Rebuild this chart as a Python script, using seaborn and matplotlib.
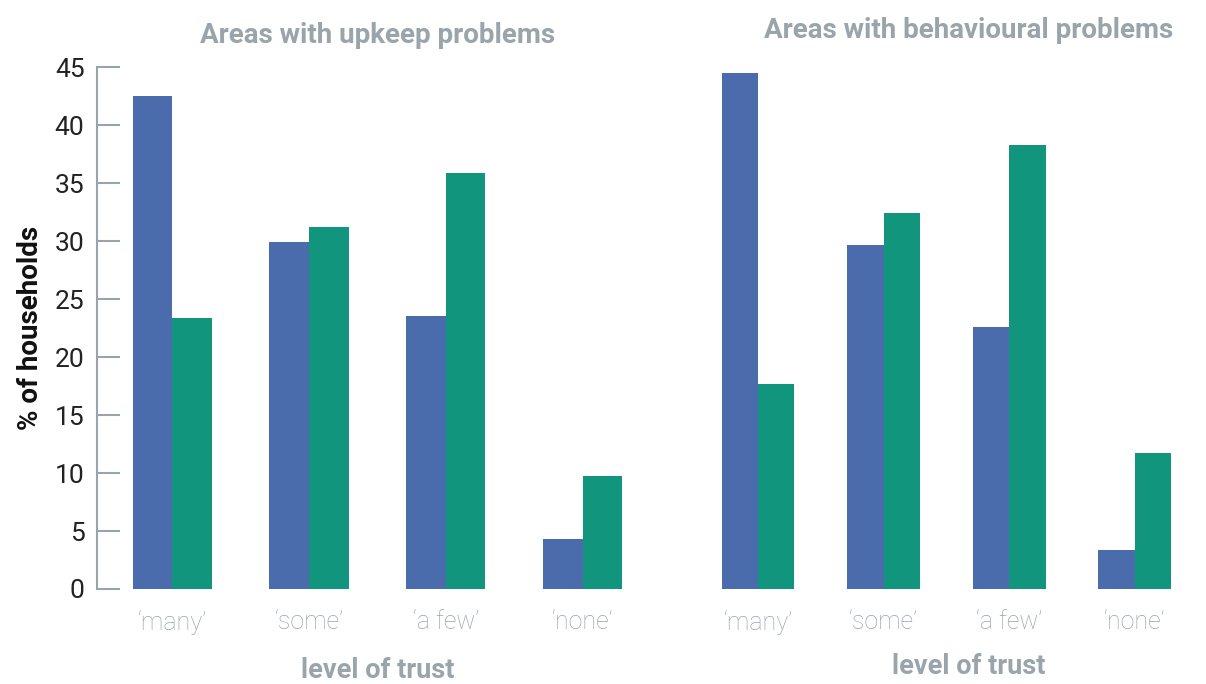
import pandas as pd
import matplotlib.pyplot as plt
import seaborn as sns

# values
trust_levels = ["\u2018many\u2019", "\u2018some\u2019", "\u2018a few\u2019", "\u2018none\u2019"]
upkeep_blue = [42.5, 29.9, 23.5, 4.3]
upkeep_green = [23.4, 31.2, 35.9, 9.7]
behaviour_blue = [44.5, 29.7, 22.6, 3.4]
behaviour_green = [17.7, 32.4, 38.3, 11.7]
yticks = [0, 5, 10, 15, 20, 25, 30, 35, 40, 45]

BLUE = "#4a6cac"
GREEN = "#11957c"
GREY = "#9aa4ab"


def make_frame(blue, green):
    return pd.DataFrame({
        "trust": trust_levels * 2,
        "series": ["blue"] * 4 + ["green"] * 4,
        "pct": blue + green,
    })


def main():
    sns.set_style("white")
    plt.rcParams["font.family"] = ["Roboto", "DejaVu Sans"]

    fig = plt.figure(figsize=(12.06, 6.84), dpi=100)
    ax1 = fig.add_axes([0.0804, 0.1389, 0.465, 0.763])
    ax2 = fig.add_axes([0.5713, 0.1389, 0.427, 0.763], sharey=ax1)

    panels = [
        (ax1, make_frame(upkeep_blue, upkeep_green), "Areas with upkeep problems", 0.5, 1.035, -0.131),
        (ax2, make_frame(behaviour_blue, behaviour_green), "Areas with behavioural problems", 0.543, 1.044, -0.122),
    ]
    for ax, df, title, tx, ty, ly in panels:
        sns.barplot(data=df, x="trust", y="pct", hue="series", palette=[BLUE, GREEN],
                    width=0.58, saturation=1, errorbar=None, legend=False,
                    linewidth=0, ax=ax)
        ax.set_xlim(-0.55, 3.55)
        ax.set_ylim(0, 45)
        ax.text(tx, ty, title, transform=ax.transAxes, ha="center", va="bottom",
                fontsize=20, fontweight="bold", color=GREY)
        ax.text(tx, ly, "level of trust", transform=ax.transAxes, ha="center", va="top",
                fontsize=19.5, fontweight="bold", color=GREY)
        ax.set_xlabel("")
        ax.set_ylabel("")
        ax.tick_params(axis="x", length=0, pad=15, labelsize=18, labelcolor=GREY)
        for lab in ax.get_xticklabels():
            lab.set_fontweight("light")
        for side in ["top", "right", "bottom"]:
            ax.spines[side].set_visible(False)

    ax1.set_yticks(yticks)
    ax1.spines["left"].set_color(GREY)
    ax1.spines["left"].set_linewidth(1.5)
    ax1.tick_params(axis="y", left=True, direction="in", length=16.5, width=1.5, color=GREY,
                    pad=9, labelsize=19, labelcolor="#222222")
    ax1.set_ylabel("% of households", fontsize=20, fontweight="bold", color="#111111", labelpad=8)

    ax2.spines["left"].set_visible(False)
    ax2.tick_params(axis="y", left=False, labelleft=False)

    fig.savefig("out.png", dpi=100)


if __name__ == "__main__":
    main()
